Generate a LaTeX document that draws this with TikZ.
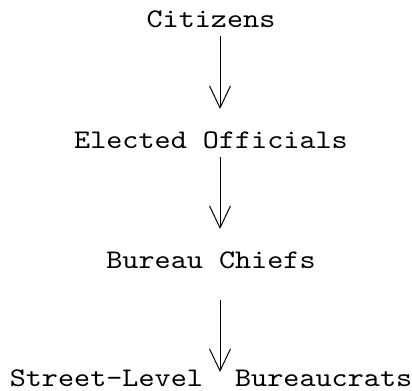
\documentclass[tikz,border=0pt]{standalone}
\usepackage{fontspec}
\setmonofont[Extension=.otf, FakeStretch=1.14]{lmmono10-regular}
\usetikzlibrary{arrows.meta}
\begin{document}
\begin{tikzpicture}[x=1bp,y=-1bp,
  lbl/.style={font=\fontsize{27}{30}\selectfont\ttfamily, inner sep=0pt, anchor=base},
  arr/.style={line width=1bp, -{Straight Barb[length=22bp,width=21bp,line width=1bp]}}]
\useasboundingbox (0,0) rectangle (412,391);
\node[lbl] (cit) at (211,27) {Citizens};
\node[lbl] (ele) at (211,148) {Elected Officials};
\node[lbl] (bur) at (211,268) {Bureau Chiefs};
\node[lbl] (str) at (211,386) {Street-Level\ \ Bureaucrats};
\coordinate (a1s) at (220,36);
\coordinate (a1e) at (220,109);
\coordinate (a2s) at (220,157);
\coordinate (a2e) at (220,229);
\coordinate (a3s) at (220,300);
\coordinate (a3e) at (220,372);
\draw[arr] (a1s) -- (a1e);
\draw[arr] (a2s) -- (a2e);
\draw[arr] (a3s) -- (a3e);
\end{tikzpicture}
\end{document}
